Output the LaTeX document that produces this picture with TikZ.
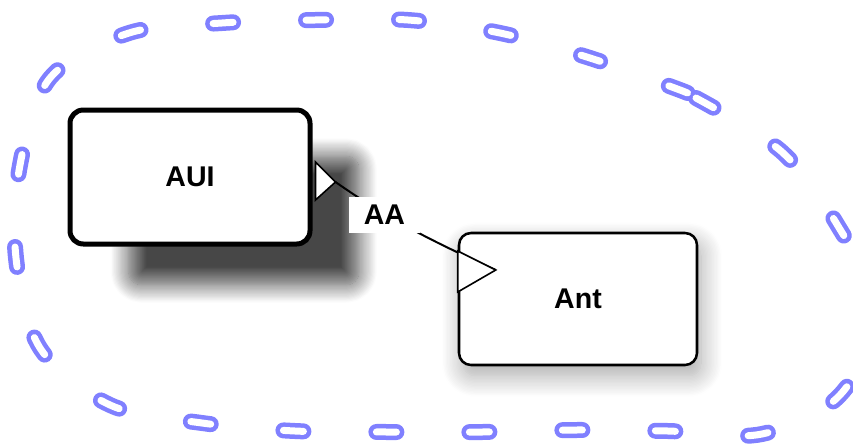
\documentclass[tikz,border=0pt]{standalone}
\usepackage{fontspec}
\setmainfont{Liberation Sans}
\usetikzlibrary{shadows.blur,calc}
\definecolor{loopblue}{RGB}{128,128,255}
\tikzset{
  boxA/.style={draw=black, line width=3.75pt, rounded corners=10pt, fill=white,
    minimum width=180pt, minimum height=100.5pt, inner sep=0pt,
    font=\fontsize{21.4}{24}\selectfont\bfseries,
    blur shadow={shadow xshift=42pt, shadow yshift=-34pt, shadow blur radius=14pt,
      shadow blur steps=16, shadow opacity=72, shadow scale=0.96}},
  boxB/.style={draw=black, line width=1.9pt, rounded corners=9pt, fill=white,
    minimum width=178.5pt, minimum height=99pt, inner sep=0pt,
    font=\fontsize{21.4}{24}\selectfont\bfseries,
    blur shadow={shadow xshift=3pt, shadow yshift=-8pt, shadow blur radius=16pt,
      shadow blur steps=16, shadow opacity=35}},
  lblbox/.style={fill=white, minimum width=53pt, minimum height=27pt, inner sep=0pt,
    font=\fontsize{21.4}{24}\selectfont\bfseries},
  conn/.style={draw=black, line width=1.5pt},
  tip/.style={draw=black, fill=white, line width=1.2pt, line join=miter},
  loopline/.style={draw=loopblue, double=white, line width=3.375pt, double distance=5.25pt,
    line cap=round, dash pattern=on 15pt off 54.75pt}
}
\begin{document}
\begin{tikzpicture}[x=0.75pt, y=-0.75pt]
\useasboundingbox (0,0) rectangle (853,447);
\clip (0,0) rectangle (853,447);
% blue dashed loop
\draw[loopline] plot[smooth, tension=0.55] coordinates {
 (696,98) (782,152) (838,226) (877,311) (840,395) (762,434) (668,431) (575,430)
 (482,432) (388,432) (295,431) (202,423) (110,405) (40,348) (16,258) (20,165)
 (50,78) (129,33) (222,23) (315,20) (408,20) (500,33) (590,58) (680,90) (692,96)};
% nodes
\node[boxA] (aui) at (190,177) {AUI};
\node[boxB] (ant) at (578,299) {Ant};
% arrow tip points
\coordinate (t1) at ($(aui.east)+(23,5)$);
\coordinate (t2) at ($(ant.west)+(38,-29)$);
% connector
\draw[conn] (t1) .. controls ($(t1)+(50,35)$) and ($(t2)+(-70,-31.5)$) .. (t2);
% triangles
\draw[tip] ($(aui.east)+(3,-15)$) -- (t1) -- ($(aui.east)+(3,23)$) -- cycle;
\draw[tip] ($(ant.west)+(0,-48)$) -- (t2) -- ($(ant.west)+(0,-7)$) -- cycle;
% label
\node[lblbox] (lbl) at (384.5,215) {AA};
\end{tikzpicture}
\end{document}
